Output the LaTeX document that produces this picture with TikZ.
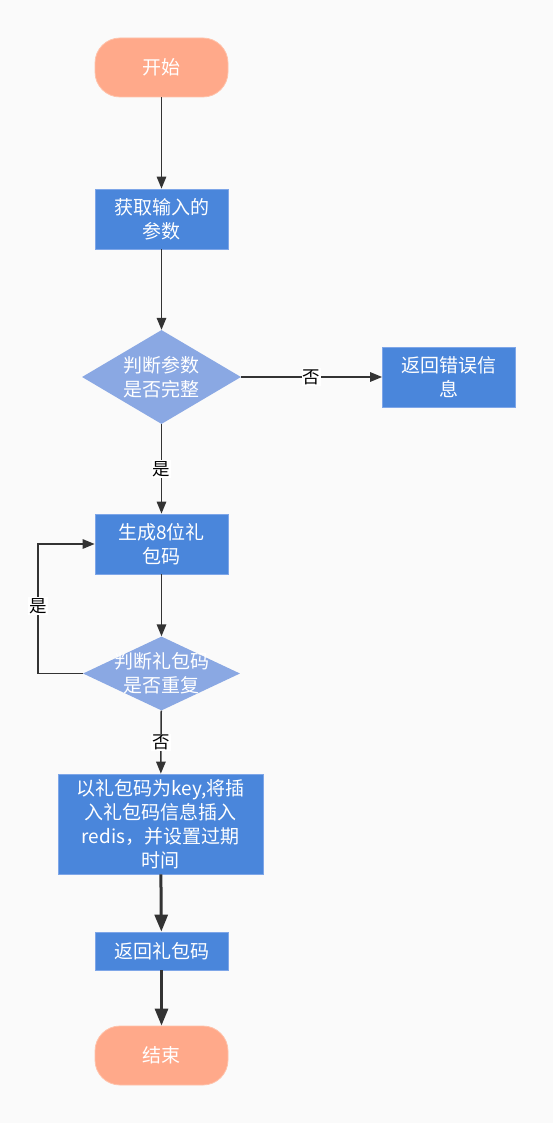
\documentclass[tikz,border=0pt]{standalone}
\usepackage{fontspec}
\setmainfont{Noto Sans CJK SC}
\usetikzlibrary{shapes.geometric,arrows.meta}

\definecolor{bgcol}{HTML}{FAFAFA}
\definecolor{termfill}{HTML}{FFA98A}
\definecolor{termline}{HTML}{FFC2AA}
\definecolor{procfill}{HTML}{4A86DB}
\definecolor{procline}{HTML}{7EA6E8}
\definecolor{decfill}{HTML}{8AA8E3}
\definecolor{edgecol}{HTML}{333333}

\tikzset{
  basefont/.style={font=\fontsize{19}{24}\selectfont},
  term/.style={rectangle, rounded corners=25pt, fill=termfill, draw=termline,
    line width=0.8pt, minimum width=133pt, minimum height=59pt, inner sep=0pt,
    text=white, basefont},
  proc/.style={rectangle, fill=procfill, draw=procline, line width=0.8pt,
    minimum width=133pt, minimum height=60pt, inner sep=0pt, align=center,
    text=white, basefont},
  dec/.style={diamond, fill=decfill, inner sep=0pt},
  dectext/.style={text=white, align=center, basefont},
  flow/.style={draw=edgecol, line width=1.5pt,
    -{Triangle[length=12pt,width=9.5pt]}},
  boldflow/.style={draw=edgecol, line width=3pt,
    -{Triangle[length=17pt,width=13pt]}},
  elabel/.style={fill=white, inner sep=1pt, text=black,
    font=\fontsize{17.5}{20}\selectfont},
}

\begin{document}
\begin{tikzpicture}[x=1pt,y=-1pt]
  \fill[bgcol] (0,0) rectangle (553,1123);
  \useasboundingbox (0,0) rectangle (553,1123);

  % nodes
  \node[term] (start) at (161.5,67.5) {开始};
  \node[proc] (input) at (161.5,219) {获取输入的\\参数};
  \node[dec, minimum width=159pt, minimum height=94pt,
        label={[dectext]center:判断参数\\是否完整}] (check) at (161.5,377) {};
  \node[proc] (error) at (449,377) {返回错误信\\息};
  \node[proc] (gen) at (161.5,544) {生成8位礼\\包码};
  \node[dec, minimum width=157pt, minimum height=74pt,
        label={[dectext]center:判断礼包码\\是否重复}] (dup) at (161.5,673.5) {};
  \node[proc, minimum width=205pt, minimum height=100pt] (store) at (160.5,824)
    {以礼包码为key,将插\\入礼包码信息插入\\redis，并设置过期\\时间};
  \node[proc, minimum height=38pt] (ret) at (161.5,951) {返回礼包码};
  \node[term] (end) at (161.5,1055.5) {结束};

  \coordinate (loop) at (38,673.5);

  % connectors
  \draw[flow] (start) -- (input);
  \draw[flow] (input) -- (check);
  \draw[flow] (check) -- node[elabel] {否} (error);
  \draw[flow] (check) -- node[elabel] {是} (gen);
  \draw[flow] (gen) -- (dup);
  \draw[flow] (dup.west) -- (loop) |- node[elabel, pos=0.26] {是} (gen.west);
  \draw[flow] (dup) -- node[elabel] {否} (store);
  \draw[boldflow] (store) -- (ret);
  \draw[boldflow] (ret) -- (end);
\end{tikzpicture}
\end{document}
